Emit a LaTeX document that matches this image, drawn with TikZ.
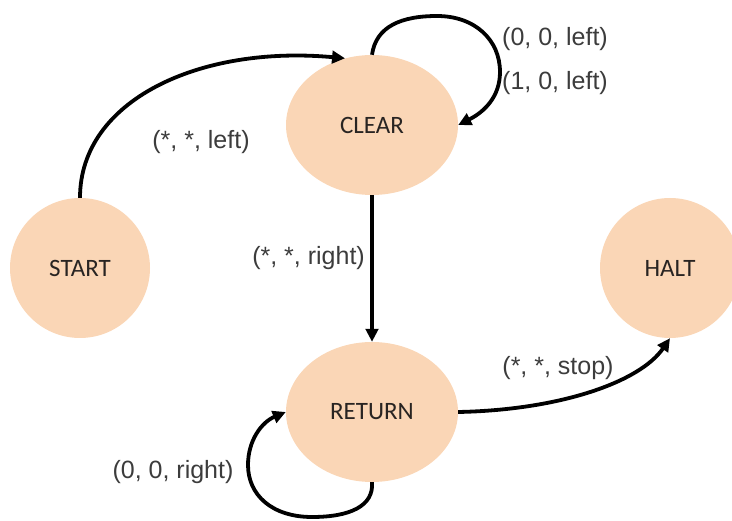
\documentclass[tikz,border=0pt]{standalone}
\usepackage{fontspec}
\setmainfont{Liberation Sans}
\newfontfamily\statefont{Carlito}
\usetikzlibrary{shapes.geometric,arrows.meta}
\definecolor{statefill}{RGB}{250,214,182}
\definecolor{statetext}{RGB}{40,36,34}
\definecolor{labeltext}{RGB}{60,60,60}
\begin{document}
\begin{tikzpicture}[x=1pt,y=-1pt,
  state/.style={fill=statefill,draw=none,inner sep=0pt,text=statetext,
    font=\statefont\fontsize{25}{29}\selectfont},
  roundstate/.style={state,circle,minimum size=140pt},
  ovalstate/.style={state,ellipse,minimum width=172pt,minimum height=140pt},
  trans/.style={line width=3.8pt,-{Triangle[length=13pt,width=12.5pt]}},
  tlabel/.style={text=labeltext,inner sep=0pt,font=\fontsize{25}{29}\selectfont}]
\useasboundingbox (0,0) rectangle (732,521);
\clip (0,0) rectangle (732,521);

% states
\node[roundstate] (start) at (80,268) {START};
\node[ovalstate] (clear) at (372,125) {CLEAR};
\node[ovalstate] (ret) at (372,412) {RETURN};
\node[roundstate] (halt) at (670,268) {HALT};

% START -> CLEAR
\draw[trans] (start.north) .. controls (80,100) and (200,45) .. (clear.112);
\node[tlabel] (lstart) at (201,142) {(*, *, left)};

% CLEAR self loop
\coordinate (ctop) at (437,16);
\coordinate (cright) at (500,72);
\draw[trans] (clear.north) .. controls (376,26) and (402,16) .. (ctop)
  .. controls (475,16) and (500,40) .. (cright)
  .. controls (500,97) and (484,112) .. (clear.east);
\node[tlabel] (lclear1) at (555,39) {(0, 0, left)};
\node[tlabel] (lclear2) at (555,83) {(1, 0, left)};

% CLEAR -> RETURN
\draw[trans] (clear.south) -- (ret.north);
\node[tlabel,anchor=east] (lclearret) at (365,258) {(*, *, right)};

% RETURN -> HALT
\draw[trans] (ret.east) .. controls (560,410) and (640,382) .. (halt.south);
\node[tlabel] (lhalt) at (558,368) {(*, *, stop)};

% RETURN self loop
\coordinate (rbottom) at (312,517);
\coordinate (rleft) at (248,465);
\draw[trans] (ret.south) .. controls (374,506) and (350,517) .. (rbottom)
  .. controls (272,517) and (248,495) .. (rleft)
  .. controls (248,440) and (262,422) .. (ret.west);
\node[tlabel] (lret) at (173,472) {(0, 0, right)};
\end{tikzpicture}
\end{document}
